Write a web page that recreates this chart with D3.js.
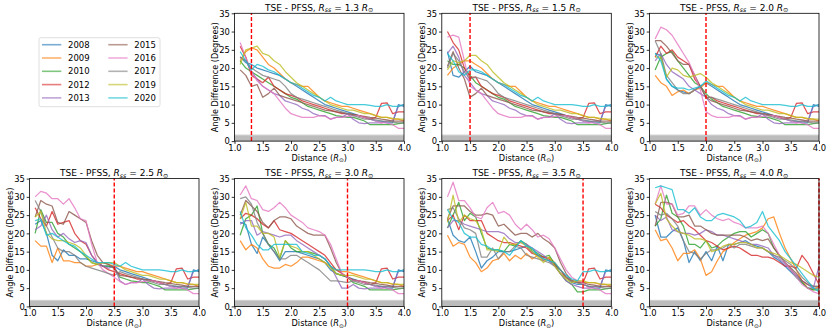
<!DOCTYPE html>
<html><head><meta charset="utf-8">
<script src="https://cdn.jsdelivr.net/npm/d3@7"></script>
<style>body{margin:0;background:#fff} svg{display:block;font-family:"DejaVu Sans",sans-serif}</style>
</head><body><svg id="c" width="830" height="331"></svg>
<script>
const years = ["2008","2009","2010","2012","2013","2015","2016","2017","2019","2020"];
const colors = ["#1f77b4","#ff7f0e","#2ca02c","#d62728","#9467bd","#8c564b","#e377c2","#7f7f7f","#bcbd22","#17becf"];
const distances = [1.1,1.2,1.3,1.4,1.5,1.6,1.7,1.8,1.9,2.0,2.1,2.2,2.3,2.4,2.5,2.6,2.7,2.8,2.9,3.0,3.1,3.2,3.3,3.4,3.5,3.6,3.7,3.8,3.9,4.0];
const xTicks = [1.0,1.5,2.0,2.5,3.0,3.5,4.0];
const yTicks = [0,5,10,15,20,25,30,35];
const sourceSurfaces = [1.3,1.5,2.0,2.5,3.0,3.5,4.0];
const bandLow = 1.5, bandHigh = 1.8;

// Rss = 1.3 (beyond Rss the PFSS field is radial, so the same values appear in every panel for x > Rss)
const rss13 = [
 [23,21.5,21,20,19.5,19,18.5,18,17,16,15,14,13,12,11,10,9.5,9,8.5,8,7.5,7,6.5,6,5.5,5.5,5,5,10,9.5],
 [22,24.5,25.5,25,23,21,20,18.5,17,16,15.5,15,15,13.5,12,11,10.5,10,9.5,9.5,9,8.5,8,7.5,7,6.5,6.5,6,6,5.5],
 [22,20,19,18,17,16,15,14,13,12,11.5,10.5,9.5,9,8.5,8,7.5,7,6.8,6.5,6.5,6,5.5,4.5,4.5,4.5,4.5,4.5,4.8,5],
 [26,23,18,17,16,17.5,15,14,13,12.5,12,11,10.5,10,9.5,9,8.5,8,7.5,7.5,7.2,7,6.5,6,6.5,10.3,10.5,7.5,8,8],
 [23,22,19,17,15,14,13,12.5,11,10.5,10,9,8.5,7.5,7,7,6,6.5,6.5,7.5,6,5,4.8,5,5,5,5.5,5.5,9.5,10],
 [19.5,18,15,15.5,12,13,14.5,12.5,12,11.5,11,10.5,10,9.5,9,8.5,8.3,8,7.8,7.5,7.3,7,6.8,6.5,6.3,6,5.8,5.5,5.5,5.5],
 [27,23,19,16.5,15,14,13,11,9,7.5,7,6.5,6.5,6.5,7,6.8,6,6.5,6.5,6.8,7,7,6.5,6,5.5,5,5,4.5,3.5,3.5],
 [23,22,20,19,18,17.5,17,16.5,15,13,12,11.5,11,10.5,10,9.5,9,8.5,8,7.5,7,6.5,6,6,5.8,5.5,5.5,5.2,5,5],
 [21,25,25.5,26,24,23.5,22,21,19,17.5,16,15,14,13,12,11,10,9.5,9,8.5,8.5,8,7.5,7.5,7,6.5,6.5,6.2,6,6],
 [24.5,22,19.5,21,20.5,19.5,19,18,17,16,15.5,14.5,13.5,12.5,12,11,12,11,10.5,10,10,10,10,9.8,9.5,9.5,10,9.5,9.5,10]
];
// values for x <= Rss in each other panel
const head15 = [
 [24.5,18,17.5,19,20.5],[18,20,21,22,22],[22,21,21,20,18],[30,27,25,20,17.5],[24,26,23,18,16],
 [20.5,24.5,20,17,12],[28.5,29,28.5,22,15],[20,24,22,19,17],[19.5,22,21.5,22,23.5],[24,22,19,18,19.5]
];
const head20 = [
 [24,23.5,17,15,14,13.5,13,14,15,16],
 [18,16,15,12.5,13.5,14,13,14,14.5,16],
 [19.5,23,24,24.5,22,20,18,16,15,13],
 [23,26,24,25,23,22,21,17,15,12],
 [22,24,21,19,18,17,15,14,13,12],
 [27.5,27.5,26,24,22,21,21,18,15,12],
 [28,31.2,30.5,29,26.5,24,21.5,18,14,8],
 [27.5,24,18,16,14,13,13,14,15,12],
 [23,23,17.5,20,19.5,18,17.5,18,18.5,17.5],
 [24,22,17,15,14.5,14.5,14,14.5,15,16.5]
];
const head25 = [
 [22.5,23.5,20,14,12.5,15.5,14,14,13,13,12.5,12,11,11,11],
 [18,16.5,16.5,12,16,12.5,12.5,12,12,11,11,11.5,12,11.5,11],
 [20,26.5,23,23,20,19,17,16,15,13.5,12,11.5,11,11,10.5],
 [27,24,22,26,22.5,23,23.5,20,18,17,14,12,11,10,9.5],
 [21,22,25,21,19,20,18.5,17.5,18,17.5,14,12,11,10.5,11],
 [24.5,29,28,27.5,23,22.5,26,25,24,23,18,14,12,11.5,10.5],
 [30,31.5,31,29.5,29.5,28,29.5,27,24,23.5,17,12,10,9,8],
 [29,26,22,19,16,15,15,14,12,11,10.5,10,9.5,9,8.5],
 [24.5,26,20,18.5,18,18,17.5,17,16,14,12,11.5,12,12,12],
 [23.5,24,19.5,20,19,18,17,16.5,15,14,13,12,12,12,11.5]
];
const head30 = [
 [23,22.5,17,14.5,19,17,15,12.5,15,15,15,14.5,14,13.5,13,12,10,9,8.5,8],
 [18,15.5,17,16,13,11,10.5,10.5,11.5,11,12,13.5,13.5,13,12.5,12,11,10,9.5,9.5],
 [19.5,24,25,27.5,20,17,16,13,18,16,15,15,15,14.5,14,13,11,9,8.5,8],
 [24,25.5,25,24,22.5,21.5,23.5,21,20.5,20,19,18,17,16,15,14,12,10,9,8],
 [22.5,23.5,23.5,19.5,20.5,20,19.5,19,19.5,19.5,18,17,16,15,14,13,11,8,5,5],
 [25,29,27.5,26,23,21.5,23.5,24.5,24.5,24,22,21,20,19.5,19.5,19.5,16,12,9,8],
 [30.5,33,29.5,29,26.5,26,27,28.5,27,25,24,23,21.5,21,20.5,19.5,17,13,9,8],
 [29.5,30,28,23,20,17,15,13,13,14,14,13,12,11,10,8.5,7,7,6.8,6.5],
 [24,28.5,22,22,20,20,19,13.5,18,16.5,16,15,15,14,13,12,10.5,9,8.5,8.5],
 [26,21.5,19.5,17,15.5,15.5,17,17,17,17,17,15,14.5,14,14,13,11,10,10,10]
];
const head35 = [
 [24,19.5,18,17.5,19,15,10.5,12.5,13.5,15,15,15,15.5,16,16.5,15,14,13,12.5,11.5,10,8,6.5,6,6],
 [19.5,16.5,17.5,17,13.5,12,9.5,10.5,12.5,13,14.5,12.5,14,13,14.5,13,14,12.5,13.5,12,10,8,7,7,6.5],
 [21.5,25,28.5,23.5,25.5,24.5,20,16,15.5,15.5,15,17,16.5,18,17,15.5,14.5,13.5,14,11.5,9,7,6,4,4],
 [23.5,25,21,25,23.5,23.5,23.5,20,19,18,17.5,17.5,17,16.5,16,14.5,14,13.5,13,11.5,10,8,7,6.5,6.5],
 [21.5,23.5,23.5,22.5,22,21.5,21,20.5,20.5,20.5,20,18.5,17.5,17.5,17,16,15,14,12.5,11,9,7,6,5.5,5],
 [24,27.5,27.5,27.5,26,25,25,25.5,25,22,22.5,21,19.5,20,20,19,20,18.5,17.5,16,12,9,7,6.5,6.5],
 [30,34,29,29,27,24.5,24,27,28.5,25.5,26,25,22.5,21,22.5,21,19,19.5,18.5,16,13,10,8,7,6.5],
 [26.5,27,24,21.5,21,20,13.5,13.5,16,13,15,15,16.5,16,14,13.5,13,12.5,12,11,9,8,7,6.5,6],
 [23,30.5,23,25,24,23.5,21,15.5,15.5,15,19,17,17,17.5,16.5,15,13.5,12,13.5,11,9,7.5,6.5,7,7],
 [26.5,24,23,20,19,19,17,16.5,15.5,15.5,15,14,16,18,16.5,16,14,13,12.5,12,10,8.5,7.5,7,9.5]
];
const head40 = [
 [25,19,19,20.5,21.5,18,12,15,12.5,15,12.5,16.5,12.5,17,17,17.5,18,17,16.5,16,15,13.5,12.5,11,9.5,8,6.5,5,5,5],
 [21,18,18.5,16,12.5,14.5,14.5,15.5,13,8.5,9.5,12.5,15,16,17.5,18.5,19.5,20,20.5,21.5,24,24.5,20,16,13,10,7,5,4.5,5.5],
 [22,24,30.5,25.5,24.5,22,17,17,16,18,16,16.5,18,19,20,20.5,20.5,19,20,21,20,16,14,12,10,8,6.5,5,4.5,4.5],
 [28,27,25,24,23,23.5,22,21,19.5,18,17.5,16.5,15.5,16,16.5,16,15,14,14,13.5,13.5,13,12,11,11,10.5,14,12,9,6],
 [25,23.5,24.5,21,20.5,20,20,19.5,20,21,20.5,19.5,19.5,19,18.5,18,17.5,17,17,16.5,16,14,13,11.5,10,8.5,7,6,5,11],
 [22,28.5,28.5,28,24.5,24.5,25,22,22,21,20,19.5,19.5,19.5,19.5,19.5,19,18,18.5,18,18.5,16,14,12,10.5,9,7,6,5.5,5.5],
 [28,33,28,28,25,25.5,27.5,27.5,25,26.5,25,24,23.5,24,23,22.5,21.5,21.5,21.5,22,20,17,14,12,10,8,6,5,4,3.5],
 [26,25,25.5,24,22,18,15,14.5,13,14.5,15.5,15.5,16,17,16,17,17,16.5,16,16,15,14,13.5,12.5,11.5,10,8,6.5,5.5,5.5],
 [28,31,24,22,20.5,20,19.5,18.5,18.5,18,15,15.5,16.5,17,17,17.5,17.5,17,16,16,15,14.5,14,13,12,11.5,10.5,9.5,8.5,8],
 [32.5,33,32.5,32,26.5,26.5,25.5,27,24.5,23.5,23.5,25,25.5,25,24.5,23.5,21.5,22,23,26,22,20,18,15,13,11,9,7,5,4]
];
const heads = [rss13, head15, head20, head25, head30, head35, head40];

const svg = d3.select("#c");
const W = 169.5, H = 127.8;
const colLeft = [29.5, 234.5, 441.8, 649.5];
const rowTop = [13.3, 178.6];
const cells = [[0,1],[0,2],[0,3],[1,0],[1,1],[1,2],[1,3]];

// legend
const lg = svg.append("g");
lg.append("rect").attr("x",39).attr("y",37.7).attr("width",121).attr("height",69)
  .attr("rx",2).attr("fill","#fff").attr("stroke","#d5d5d5").attr("stroke-width",0.8);
years.forEach((yr,i)=>{
  const c = Math.floor(i/5), r = i%5;
  const yy = 44.7 + r*13.3;
  const x0 = c===0 ? 42 : 108.3;
  lg.append("line").attr("x1",x0).attr("x2",x0+19.3).attr("y1",yy).attr("y2",yy)
    .attr("stroke",colors[i]).attr("stroke-width",1.6).attr("stroke-opacity",0.6);
  lg.append("text").attr("x",x0+26).attr("y",yy+3.1).attr("font-size",8.5).attr("fill","#000").text(yr);
});

sourceSurfaces.forEach((rss,p)=>{
  const [row,col] = cells[p];
  const g = svg.append("g").attr("transform",`translate(${colLeft[col]},${rowTop[row]})`);
  const x = d3.scaleLinear().domain([1,4]).range([0,W]);
  const y = d3.scaleLinear().domain([0,35]).range([H,0]);
  const cid = "clip"+p;
  g.append("clipPath").attr("id",cid).append("rect").attr("width",W).attr("height",H);

  // band
  g.append("rect").attr("x",0).attr("width",W).attr("y",y(bandHigh)).attr("height",y(0)-y(bandHigh)).attr("fill","#d2d2d2");
  g.append("rect").attr("x",0).attr("width",W).attr("y",y(bandLow)).attr("height",y(0)-y(bandLow)).attr("fill","#bcbcbc");

  const line = d3.line().x(d=>x(d[0])).y(d=>y(d[1]));
  const lines = g.append("g").attr("clip-path",`url(#${cid})`);
  years.forEach((yr,i)=>{
    const h = heads[p][i];
    const vals = h.concat(rss13[i].slice(h.length));
    const pts = distances.map((d,k)=>[d, vals[k]]);
    lines.append("path").attr("d",line(pts)).attr("fill","none")
      .attr("stroke",colors[i]).attr("stroke-width",1.25).attr("stroke-opacity",0.8)
      .attr("stroke-linejoin","round");
  });
  g.append("line").attr("x1",x(rss)).attr("x2",x(rss)).attr("y1",y(0)).attr("y2",y(35))
    .attr("stroke","#ff0000").attr("stroke-width",1.4).attr("stroke-dasharray","4,2");

  const xa = g.append("g").attr("transform",`translate(0,${H})`)
    .call(d3.axisBottom(x).tickValues(xTicks).tickFormat(d3.format(".1f")).tickSize(2.8).tickPadding(0.8));
  const ya = g.append("g").call(d3.axisLeft(y).tickValues(yTicks).tickSize(2.8).tickPadding(1.8));
  [xa,ya].forEach(a=>{
    a.select(".domain").remove();
    a.selectAll("text").attr("font-size",8.4).attr("font-family","DejaVu Sans").attr("fill","#000");
    a.selectAll("line").attr("stroke","#000").attr("stroke-width",0.8);
  });
  g.append("rect").attr("width",W).attr("height",H).attr("fill","none").attr("stroke","#000").attr("stroke-width",0.8);

  // title
  const t = g.append("text").attr("x",W/2).attr("y",-2.6).attr("text-anchor","middle").attr("font-size",9).attr("fill","#000");
  t.append("tspan").text("TSE - PFSS, ");
  t.append("tspan").attr("font-style","italic").text("R");
  t.append("tspan").attr("font-style","italic").attr("font-size",6.3).attr("dy",1.6).text("ss");
  t.append("tspan").attr("dy",-1.6).text(" = " + rss.toFixed(1) + " ");
  t.append("tspan").attr("font-style","italic").text("R");
  t.append("tspan").attr("font-size",6.3).attr("dy",1.6).text("\u2299");

  // x label
  const xl = g.append("text").attr("x",W/2).attr("y",H+19.8).attr("text-anchor","middle").attr("font-size",8.2).attr("fill","#000");
  xl.append("tspan").text("Distance (");
  xl.append("tspan").attr("font-style","italic").text("R");
  xl.append("tspan").attr("font-size",5.8).attr("dy",1.4).text("\u2299");
  xl.append("tspan").attr("dy",-1.4).text(")");

  // y label
  g.append("text").attr("transform",`translate(-16.5,${H/2}) rotate(-90)`).attr("text-anchor","middle")
    .attr("font-size",8.1).attr("fill","#000").text("Angle Difference (Degrees)");
});
</script></body></html>
